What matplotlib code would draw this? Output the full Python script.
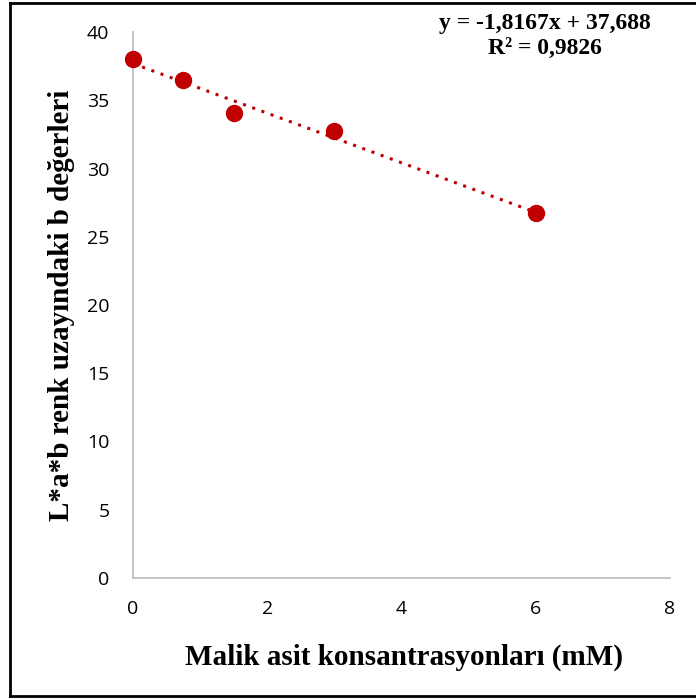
import matplotlib.pyplot as plt
import numpy as np
from matplotlib.lines import Line2D

# data
konsantrasyon = [0, 0.75, 1.5, 3, 6]
b_degerleri = [38.0, 36.5, 34.05, 32.75, 26.75]
egim = -1.8167
kesisim = 37.688
r2 = 0.9826

red = '#C00000'
gray = '#BFBFBF'

fig = plt.figure(figsize=(6.96, 6.99), dpi=100)
ax = fig.add_axes([133 / 696, 1 - 578 / 699, 537 / 696, 546 / 699])

# trendline
xt = np.array([min(konsantrasyon), max(konsantrasyon)])
ax.plot(xt, egim * xt + kesisim, color=red, linestyle=(0, (1, 2.2)), linewidth=2.2, zorder=2)
ax.plot(konsantrasyon, b_degerleri, 'o', color=red, markersize=11.5, zorder=3, clip_on=False)

ax.set_xlim(0, 8)
ax.set_ylim(0, 40)
ax.set_xticks([0, 2, 4, 6, 8])
ax.set_yticks(range(0, 41, 5))
for s in ['top', 'right']:
    ax.spines[s].set_visible(False)
for s in ['left', 'bottom']:
    ax.spines[s].set_color(gray)
    ax.spines[s].set_linewidth(1.3)
ax.tick_params(length=0, labelsize=14)
ax.tick_params(axis='x', pad=16)
ax.tick_params(axis='y', pad=17)
for lab in ax.get_xticklabels() + ax.get_yticklabels():
    lab.set_family('Open Sans')

fig.text(404 / 696, 1 - 657 / 699, 'Malik asit konsantrasyonları (mM)', ha='center', va='center',
         family='Liberation Serif', fontweight='bold', fontsize=21)
fig.text(62 / 696, 1 - 305 / 699, 'L*a*b renk uzayındaki b değerleri', ha='center', va='center',
         rotation=90, family='Liberation Serif', fontweight='bold', fontsize=21)

eq = 'y = -1,8167x + 37,688\nR² = 0,9826'
fig.text(545 / 696, 1 - 36 / 699, eq, ha='center', va='center', multialignment='center',
         family='Liberation Serif', fontweight='bold', fontsize=17, linespacing=1.3)

# outer border (left, top, bottom)
bx, by0, by1 = 10 / 696, 3 / 699, 696 / 699
fig.add_artist(Line2D([bx, bx], [1 - by0, 1 - by1], color='black', lw=2))
fig.add_artist(Line2D([bx, 1], [1 - by0, 1 - by0], color='black', lw=2))
fig.add_artist(Line2D([bx, 1], [1 - by1, 1 - by1], color='black', lw=2))

fig.savefig('out.png', dpi=100)
